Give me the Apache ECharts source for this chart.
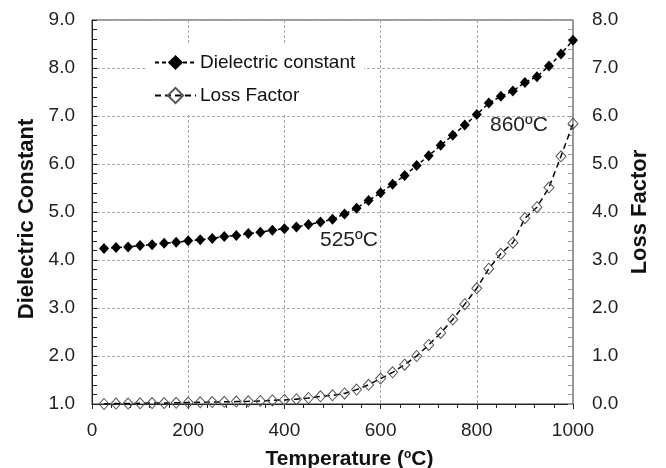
<!DOCTYPE html>
<html>
<head>
<meta charset="utf-8">
<script src="https://cdn.jsdelivr.net/npm/echarts@6/dist/echarts.min.js"></script>
<style>
  html, body { margin: 0; padding: 0; background: #fff; }
  #chart { width: 666px; height: 468px; }
</style>
</head>
<body>
<div id="chart"></div>
<script>
// temperature (oC)
const temps = [25, 50, 75, 100, 125, 150, 175, 200, 225, 250, 275, 300, 325, 350, 375, 400,
  425, 450, 475, 500, 525, 550, 575, 600, 625, 650, 675, 700, 725, 750, 775, 800,
  825, 850, 875, 900, 925, 950, 975, 1000];
const dielectric = [4.24, 4.26, 4.27, 4.30, 4.32, 4.35, 4.37, 4.40, 4.42, 4.45, 4.49, 4.51, 4.55, 4.58, 4.62, 4.65,
  4.69, 4.74, 4.79, 4.85, 4.96, 5.08, 5.24, 5.40, 5.58, 5.76, 5.97, 6.17, 6.39, 6.60, 6.81, 7.03,
  7.27, 7.41, 7.52, 7.70, 7.82, 8.04, 8.29, 8.58];
const lossFactor = [0.00, 0.01, 0.01, 0.015, 0.02, 0.02, 0.025, 0.03, 0.035, 0.04, 0.045, 0.05, 0.055, 0.065, 0.075, 0.085,
  0.10, 0.125, 0.16, 0.18, 0.22, 0.30, 0.40, 0.53, 0.66, 0.82, 1.00, 1.23, 1.48, 1.76, 2.08, 2.41,
  2.82, 3.13, 3.36, 3.87, 4.10, 4.51, 5.16, 5.84];

const font = 'Liberation Sans, Arial, sans-serif';
const gridDash = { color: '#a8a8a8', type: [3, 2], width: 1 };

let chart = echarts.init(document.getElementById('chart'));
chart.setOption({
  animation: false,
  textStyle: { fontFamily: font },
  grid: { left: 92, right: 93, top: 20, bottom: 64, show: true, borderColor: '#333', borderWidth: 1,
    containLabel: false, outerBoundsMode: 'none' },
  legend: {
    orient: 'vertical',
    left: 147, top: 43,
    padding: [10, 9, 9, 7],
    backgroundColor: '#fff',
    itemWidth: 41, itemHeight: 19, itemGap: 14,
    textStyle: { fontSize: 19, color: '#111', fontFamily: font, padding: [0, 0, 0, -1] },
    data: ['Dielectric constant', 'Loss Factor']
  },
  xAxis: {
    type: 'value', min: 0, max: 1000, interval: 200,
    name: 'Temperature ({s|o}C)', nameLocation: 'middle', nameGap: 45,
    nameTextStyle: { fontSize: 21, fontWeight: 'bold', color: '#111', padding: [0, 0, 0, 34],
      rich: { s: { fontSize: 12, fontWeight: 'bold', verticalAlign: 'top', color: '#111' } } },
    axisLine: { lineStyle: { color: '#222', width: 1 } },
    axisTick: { inside: false, length: 5, lineStyle: { color: '#222' } },
    minorTick: { show: true, splitNumber: 5, length: 4, lineStyle: { color: '#222' } },
    axisLabel: { fontSize: 19, color: '#222', margin: 17, formatter: v => String(v) },
    splitLine: { show: true, lineStyle: gridDash }
  },
  yAxis: [{
    type: 'value', min: 1, max: 9, interval: 1, position: 'left',
    name: 'Dielectric Constant', nameLocation: 'middle', nameGap: 54,
    nameTextStyle: { fontSize: 22, fontWeight: 'bold', color: '#111', padding: [0, 14, 0, 0] },
    axisLine: { show: true, lineStyle: { color: '#222' } },
    axisTick: { show: true, inside: true, length: 5, lineStyle: { color: '#222' } },
    minorTick: { show: true, splitNumber: 5, length: 5, lineStyle: { color: '#222' } },
    axisLabel: { fontSize: 19, color: '#222', margin: 17, formatter: v => v.toFixed(1) },
    splitLine: { show: true, lineStyle: gridDash }
  }, {
    type: 'value', min: 0, max: 8, interval: 1, position: 'right',
    name: 'Loss Factor', nameLocation: 'middle', nameGap: 54,
    nameTextStyle: { fontSize: 22, fontWeight: 'bold', color: '#111' },
    axisLine: { show: true, lineStyle: { color: '#999' } },
    axisTick: { show: true, inside: true, length: 5, lineStyle: { color: '#999' } },
    minorTick: { show: true, splitNumber: 5, length: 5, lineStyle: { color: '#999' } },
    axisLabel: { fontSize: 19, color: '#222', margin: 19, formatter: v => v.toFixed(1) },
    splitLine: { show: false }
  }],
  series: [{
    name: 'Dielectric constant',
    type: 'line',
    data: temps.map((t, i) => [t, dielectric[i]]),
    symbol: 'diamond', symbolSize: [10, 11],
    itemStyle: { color: '#000' },
    lineStyle: { color: '#000', width: 1.5, type: [4, 3] },
    z: 3
  }, {
    name: 'Loss Factor',
    type: 'line',
    yAxisIndex: 1,
    data: temps.map((t, i) => [t, lossFactor[i]]),
    symbol: 'diamond', symbolSize: [10, 11],
    itemStyle: { color: 'rgba(255,255,255,0)', borderColor: '#555', borderWidth: 1 },
    lineStyle: { color: '#000', width: 1.5, type: [6, 4] },
    z: 2
  }],
  graphic: [
    { type: 'text', left: 320, top: 230, style: { text: '525ºC', fontSize: 21, fontFamily: font, fill: '#222' } },
    { type: 'text', left: 490, top: 115, style: { text: '860ºC', fontSize: 21, fontFamily: font, fill: '#222' } }
  ]
});
</script>
</body>
</html>
